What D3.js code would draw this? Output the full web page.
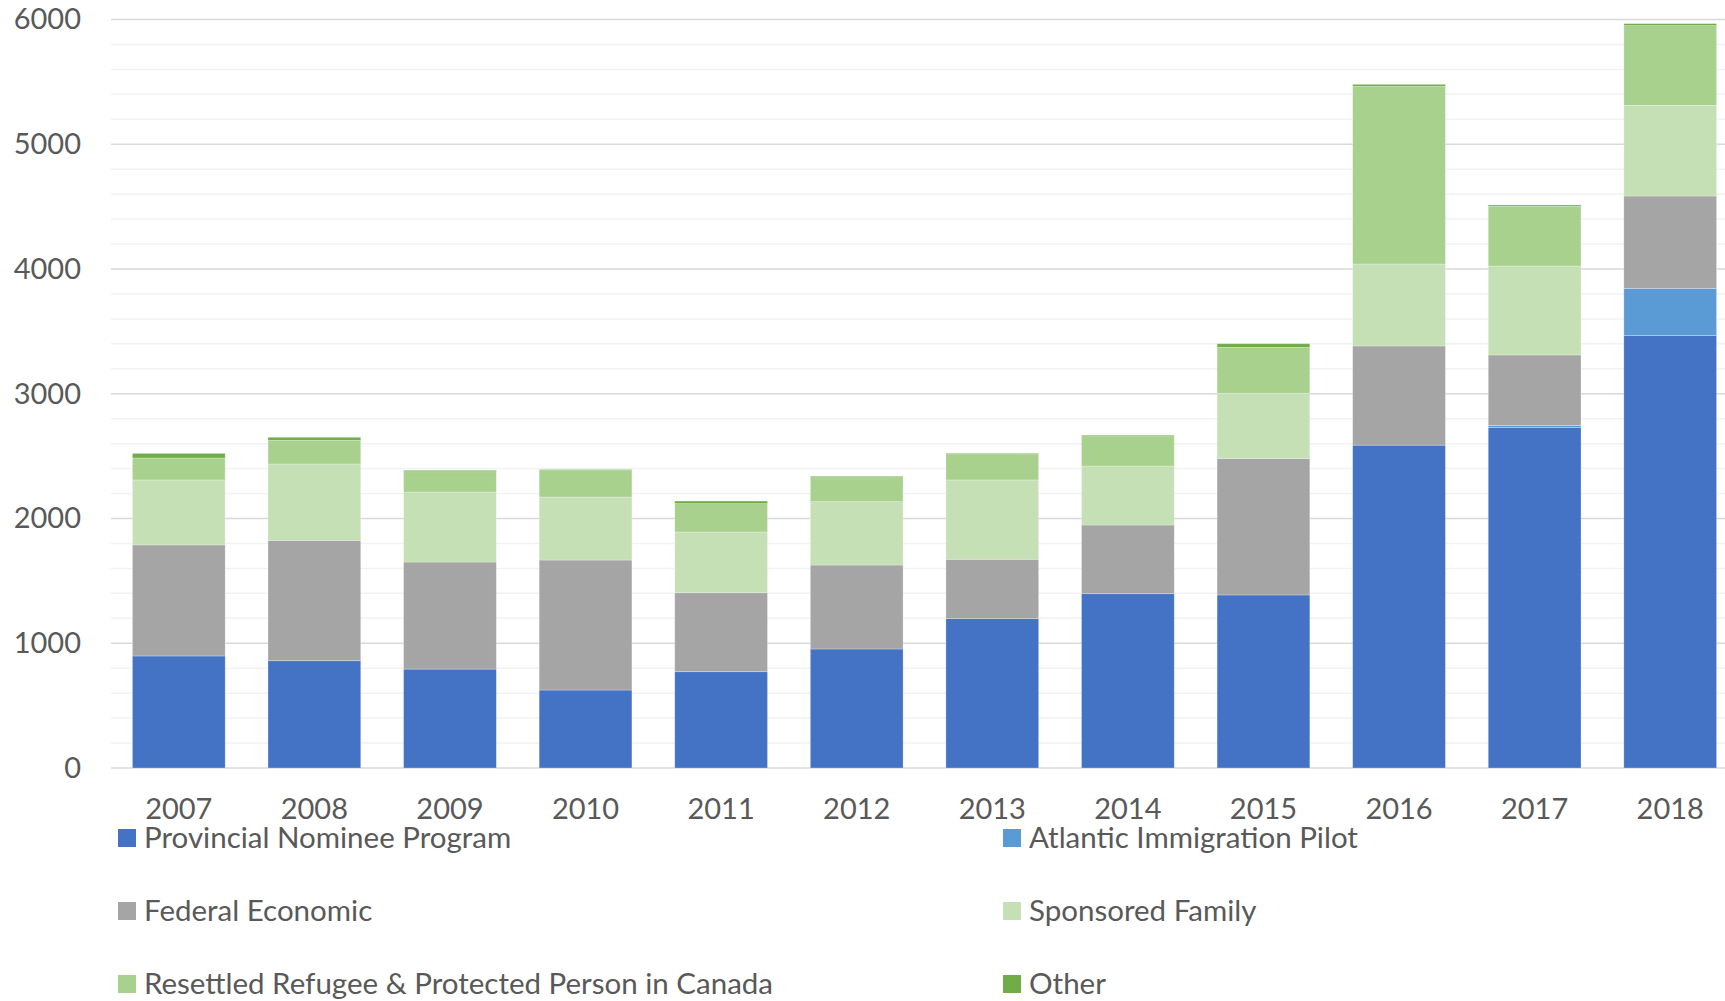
<!DOCTYPE html>
<html>
<head>
<meta charset="utf-8">
<style>
    body { margin: 0; background: #fff; }
    text { font-family: Lato, "Open Sans", sans-serif; fill: #595959; }
</style>
</head>
<body>
<svg width="1725" height="1001"></svg>

<script src="https://d3js.org/d3.v7.min.js"></script>
<script>
    // values
    var years = ["2007", "2008", "2009", "2010", "2011", "2012", "2013", "2014", "2015", "2016", "2017", "2018"];
    var provincialNominee = [898, 860, 793, 625, 772, 954, 1197, 1397, 1387, 2588, 2730, 3468];
    var atlanticPilot     = [0, 0, 0, 0, 0, 0, 0, 0, 0, 0, 16, 377];
    var federalEconomic   = [890, 965, 858, 1042, 633, 673, 476, 551, 1094, 795, 565, 740];
    var sponsoredFamily   = [521, 612, 561, 505, 487, 508, 636, 473, 523, 657, 713, 727];
    var resettledRefugee  = [176, 190, 163, 218, 227, 192, 203, 235, 368, 1424, 478, 639];
    var other             = [37, 24, 11, 4, 21, 11, 10, 11, 29, 16, 11, 16];
    var yTicks = [0, 1000, 2000, 3000, 4000, 5000, 6000];

    var series = [
        { key: "Provincial Nominee Program", values: provincialNominee, color: "#4472C4" },
        { key: "Atlantic Immigration Pilot", values: atlanticPilot, color: "#5B9BD5" },
        { key: "Federal Economic", values: federalEconomic, color: "#A5A5A5" },
        { key: "Sponsored Family", values: sponsoredFamily, color: "#C5E0B4" },
        { key: "Resettled Refugee & Protected Person in Canada", values: resettledRefugee, color: "#A9D18E" },
        { key: "Other", values: other, color: "#70AD47" }
    ];

    var svg = d3.select("svg");

    var table = years.map(function (yr, i) {
        var row = { year: yr };
        series.forEach(function (s) { row[s.key] = s.values[i]; });
        return row;
    });

    var keys = series.map(function (s) { return s.key; });
    var color = d3.scaleOrdinal().domain(keys).range(series.map(function (s) { return s.color; }));

    var x = d3.scaleBand()
        .domain(years)
        .range([111, 1738])
        .paddingInner(0.316)
        .paddingOuter(0.158);

    var y = d3.scaleLinear()
        .domain([0, 6000])
        .range([768, 19.5]);

    // gridlines: minor every 200, major every 1000
    var grid = svg.append("g");
    grid.selectAll("line.minor")
        .data(d3.range(200, 6000, 200).filter(function (v) { return v % 1000 !== 0; }))
        .enter().append("line")
        .attr("class", "minor")
        .attr("x1", 111).attr("x2", 1725)
        .attr("y1", function (d) { return y(d); })
        .attr("y2", function (d) { return y(d); })
        .attr("stroke", "#f2f2f2")
        .attr("stroke-width", 1.5);
    grid.selectAll("line.major")
        .data(yTicks)
        .enter().append("line")
        .attr("class", "major")
        .attr("x1", 111).attr("x2", 1725)
        .attr("y1", function (d) { return y(d); })
        .attr("y2", function (d) { return y(d); })
        .attr("stroke", "#d9d9d9")
        .attr("stroke-width", 1.5);

    var stacked = d3.stack().keys(keys)(table);

    svg.append("g")
        .selectAll("g")
        .data(stacked)
        .enter().append("g")
        .attr("fill", function (d) { return color(d.key); })
        .selectAll("rect")
        .data(function (d) { return d; })
        .enter().append("rect")
        .attr("x", function (d) { return x(d.data.year); })
        .attr("y", function (d) { return y(d[1]); })
        .attr("width", x.bandwidth())
        .attr("height", function (d) { return y(d[0]) - y(d[1]); })
        .attr("stroke", "#ffffff")
        .attr("stroke-opacity", 0.35)
        .attr("stroke-width", 0.75);

    // y axis labels
    var yAxis = svg.append("g")
        .attr("transform", "translate(91,0)")
        .call(d3.axisLeft(y).tickValues(yTicks).tickFormat(d3.format("d")).tickSize(0).tickPadding(10));
    yAxis.select(".domain").remove();
    yAxis.selectAll("text")
        .attr("font-size", 29)
        .attr("fill", "#595959")
        .style("font-family", "Lato, 'Open Sans', sans-serif");

    // x axis labels
    var xAxis = svg.append("g")
        .attr("transform", "translate(0,768)")
        .call(d3.axisBottom(x).tickSize(0).tickPadding(0));
    xAxis.select(".domain").remove();
    xAxis.selectAll("text")
        .attr("dy", null)
        .attr("y", 51)
        .attr("font-size", 29)
        .attr("fill", "#595959")
        .style("font-family", "Lato, 'Open Sans', sans-serif");

    // legend, two columns
    var legend = svg.append("g")
        .selectAll("g")
        .data(series)
        .enter().append("g")
        .attr("transform", function (d, i) {
            var col = i % 2, row = Math.floor(i / 2);
            return "translate(" + (col === 0 ? 118 : 1003) + "," + (829 + row * 73) + ")";
        });

    legend.append("rect")
        .attr("width", 18)
        .attr("height", 18)
        .attr("fill", function (d) { return d.color; });

    legend.append("text")
        .attr("x", 26)
        .attr("y", 19)
        .attr("font-size", 29.5)
        .text(function (d) { return d.key; });
</script>
</body>
</html>
